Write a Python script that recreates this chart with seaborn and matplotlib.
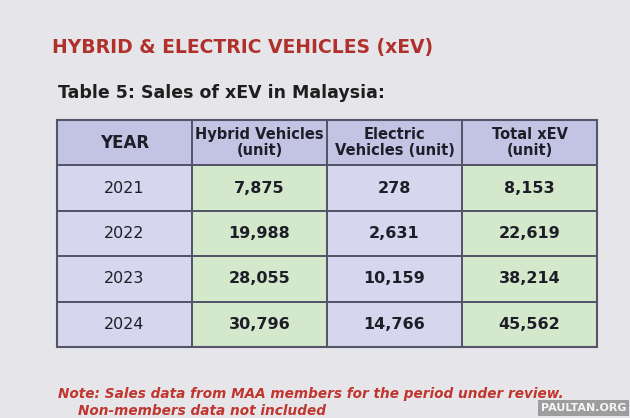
import matplotlib
matplotlib.use("Agg")
import matplotlib.pyplot as plt
import seaborn as sns
import numpy as np
from matplotlib.colors import ListedColormap

years = ["2021", "2022", "2023", "2024"]
hybrid = [7875, 19988, 28055, 30796]
electric = [278, 2631, 10159, 14766]
total = [8153, 22619, 38214, 45562]
headers = ["YEAR", "Hybrid Vehicles\n(unit)", "Electric\nVehicles (unit)", "Total xEV\n(unit)"]

fig = plt.figure(figsize=(6.3, 4.18), dpi=100)
fig.patch.set_facecolor("#e6e6ea")

W, H = 630, 418
x0, x1, y0, y1 = 57, 597, 120, 347
ax = fig.add_axes([x0 / W, 1 - y1 / H, (x1 - x0) / W, (y1 - y0) / H])

cls = np.array([[0, 0, 0, 0]] + [[1, 2, 1, 2]] * 4)
cmap = ListedColormap(["#c3c3e4", "#d6d6ee", "#d4e9cc"])
cell_text = [headers] + [[y, f"{h:,}", f"{e:,}", f"{t:,}"] for y, h, e, t in zip(years, hybrid, electric, total)]
sns.heatmap(cls, ax=ax, cmap=cmap, vmin=-0.5, vmax=2.5, cbar=False,
            linewidths=1.2, linecolor="#55556a", annot=False)
ax.set_xticks([]); ax.set_yticks([])
for r, row in enumerate(cell_text):
    for c, txt in enumerate(row):
        bold = (r == 0) or (c > 0)
        size = 12 if r == 0 and c == 0 else (10.5 if r == 0 else 11.5)
        ax.text(c + 0.5, r + 0.5, txt, ha="center", va="center", fontsize=size,
                fontweight="bold" if bold else "normal", color="#1e1e28", linespacing=1.1)
for s in ax.spines.values():
    s.set_visible(True); s.set_color("#55556a"); s.set_linewidth(1.5)

fig.text(52 / W, 1 - 48 / H, "HYBRID & ELECTRIC VEHICLES (xEV)", fontsize=13.5, fontweight="bold",
         color="#b0302c", va="center", ha="left")
fig.text(58 / W, 1 - 93 / H, "Table 5: Sales of xEV in Malaysia:", fontsize=12.5, fontweight="bold",
         color="#1e1e1e", va="center", ha="left")
fig.text(58 / W, 1 - 394 / H, "Note: Sales data from MAA members for the period under review.", fontsize=9.8,
         fontweight="bold", style="italic", color="#c0352e", va="center", ha="left")
fig.text(78 / W, 1 - 411 / H, "Non-members data not included", fontsize=9.8,
         fontweight="bold", style="italic", color="#c0352e", va="center", ha="left")
fig.text(626 / W, 1 - 408 / H, "PAULTAN.ORG", fontsize=8, fontweight="bold",
         color="white", va="center", ha="right", alpha=0.9,
         bbox=dict(facecolor="#555555", edgecolor="none", alpha=0.5, pad=2))
fig.savefig("out.png", dpi=100, facecolor=fig.get_facecolor())
